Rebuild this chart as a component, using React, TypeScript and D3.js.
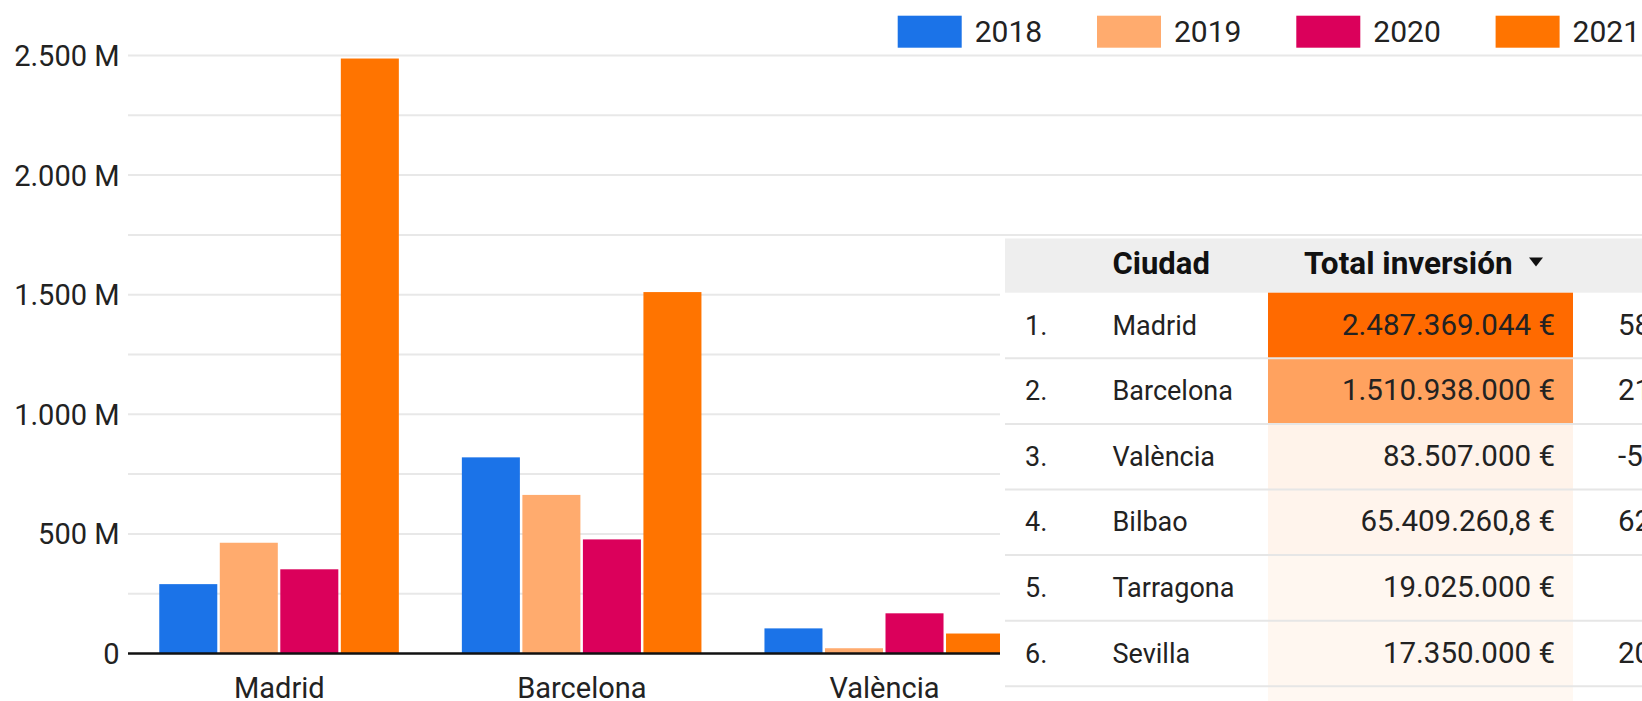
import React, { useEffect } from 'react';
import * as d3 from 'd3';

// ---- Chart data (values in millions of €) ----
const years = ['2018', '2019', '2020', '2021'];
const cities = ['Madrid', 'Barcelona', 'València', 'Bilbao', 'Tarragona'];
const v2018 = [290, 820, 105];
const v2019 = [463, 663, 22];
const v2020 = [352, 477, 168];
const v2021 = [2487.369044, 1510.938, 83.507, 65.4092608, 19.025];
const seriesColors = ['#1B73E8', '#FFAB6E', '#DB005B', '#FF7400'];
const yTicks = [0, 500, 1000, 1500, 2000, 2500];
const yTickLabels = ['0', '500 M', '1.000 M', '1.500 M', '2.000 M', '2.500 M'];
const gridValues = [250, 500, 750, 1000, 1250, 1500, 1750, 2000, 2250, 2500];

// ---- Table data ----
const tableRanks = ['1.', '2.', '3.', '4.', '5.', '6.'];
const tableCities = ['Madrid', 'Barcelona', 'València', 'Bilbao', 'Tarragona', 'Sevilla'];
const tableTotals = [2487369044, 1510938000, 83507000, 65409260.8, 19025000, 17350000];
const tableTotalLabels = ['2.487.369.044 €', '1.510.938.000 €', '83.507.000 €', '65.409.260,8 €', '19.025.000 €', '17.350.000 €'];
const tableNext = ['58', '21', '-5', '62', '', '20'];
const tableHeaders = ['Ciudad', 'Total inversión'];

const series = [v2018, v2019, v2020, v2021];

export default function App() {
  useEffect(() => {
    document.body.style.margin = '0';
    document.body.style.overflow = 'hidden';
  }, []);

  const W = 1642;
  const H = 701;
  const font = 'Roboto, "Noto Sans", sans-serif';

  const y = d3.scaleLinear().domain([0, 2500]).range([653.5, 55.5]);
  const x0 = d3.scaleBand<string>().domain(cities).range([128, 1641]).paddingInner(0.2).paddingOuter(0.1);
  const x1 = d3.scaleBand<string>().domain(years).range([0, x0.bandwidth()]);

  const bars: JSX.Element[] = [];
  cities.forEach((c, ci) => {
    years.forEach((yr, si) => {
      const v = series[si][ci];
      if (v === undefined) return;
      const bx = (x0(c) as number) + (x1(yr) as number) + 1;
      bars.push(
        <rect key={c + yr} x={bx} y={y(v)} width={x1.bandwidth() - 2.5} height={y(0) - y(v)} fill={seriesColors[si]} />
      );
    });
  });

  // table geometry
  const tX = 1000;
  const headTop = 238.5;
  const headH = 54.2;
  const rowH = 65.6;
  const rowTop0 = headTop + headH;
  const cellX0 = 1268;
  const cellX1 = 1573;
  const heat = d3.scaleLinear<string>().domain([0, d3.max(tableTotals) as number]).range(['#FFF8F2', '#FF6A00']);

  return (
    <svg width={W} height={H} style={{ display: 'block', background: '#fff' }} fontFamily={font}>
      {/* gridlines */}
      {gridValues.map((g) => (
        <line key={g} x1={128} x2={W} y1={y(g)} y2={y(g)} stroke="#E8E8E8" strokeWidth={2} />
      ))}
      {/* y labels */}
      {yTicks.map((t, i) => (
        <text key={t} x={119.5} y={y(t) + 10.5} textAnchor="end" fontSize={29} fill="#222">
          {yTickLabels[i]}
        </text>
      ))}
      {bars}
      {/* baseline */}
      <line x1={128} x2={W} y1={y(0)} y2={y(0)} stroke="#111" strokeWidth={2.5} />
      {/* x labels */}
      {cities.map((c) => (
        <text key={c} x={(x0(c) as number) + x0.bandwidth() / 2} y={698} textAnchor="middle" fontSize={29} fill="#222">
          {c}
        </text>
      ))}
      {/* legend */}
      {years.map((yr, i) => (
        <g key={yr} transform={`translate(${897.7 + i * 199.3},0)`}>
          <rect x={0} y={15.7} width={64} height={32} fill={seriesColors[i]} />
          <text x={77} y={42.3} fontSize={30} fill="#222">{yr}</text>
        </g>
      ))}

      {/* table overlay */}
      <rect x={tX} y={236.5} width={W - tX} height={H - 236.5} fill="#fff" />
      <rect x={tX + 5} y={headTop} width={W - tX - 5} height={headH} fill="#EEEEEE" />
      <text x={1112.5} y={274} fontSize={31} fontWeight={700} fill="#111">{tableHeaders[0]}</text>
      <text x={1304} y={274} fontSize={31.5} fontWeight={700} fill="#111">{tableHeaders[1]}</text>
      <path d={`M1529,257.5 L1543,257.5 L1536,266.5 Z`} fill="#111" />
      {/* value cells */}
      {tableTotals.map((v, i) => (
        <rect key={'c' + i} x={cellX0} y={rowTop0 + i * rowH} width={cellX1 - cellX0} height={rowH} fill={heat(v)} />
      ))}
      <rect x={cellX0} y={rowTop0 + tableTotals.length * rowH} width={cellX1 - cellX0} height={rowH} fill={heat(0)} />
      {/* separators */}
      {tableTotals.map((_, i) => (
        <line key={'s' + i} x1={tX + 5} x2={W} y1={rowTop0 + (i + 1) * rowH} y2={rowTop0 + (i + 1) * rowH} stroke="#E6E6E6" strokeWidth={2} />
      ))}
      {tableRanks.map((r, i) => {
        const by = rowTop0 + i * rowH + 41.8;
        return (
          <g key={'r' + i} fontSize={27} fill="#222">
            <text x={1025} y={by}>{r}</text>
            <text x={1112.5} y={by}>{tableCities[i]}</text>
            <text x={1555} y={by} textAnchor="end" fontSize={29.5}>{tableTotalLabels[i]}</text>
            <text x={1618} y={by} fontSize={29.5}>{tableNext[i]}</text>
          </g>
        );
      })}
    </svg>
  );
}
